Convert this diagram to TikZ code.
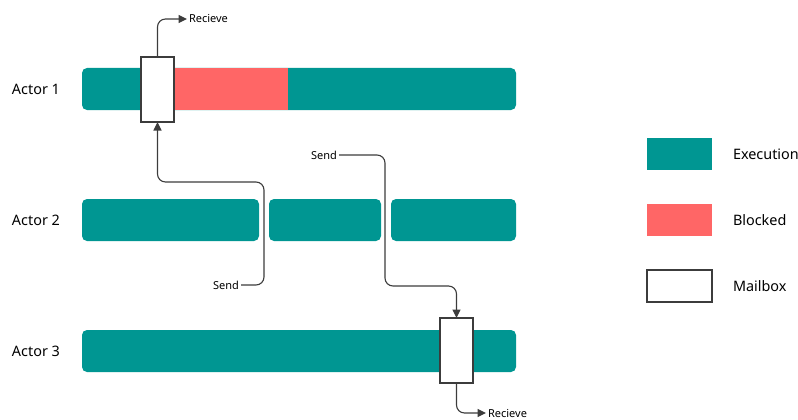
\documentclass[tikz,border=0pt]{standalone}
\usepackage{fontspec}
\setmainfont{Noto Sans}
\usetikzlibrary{arrows.meta,positioning,calc}
\definecolor{exec}{RGB}{0,150,146}
\definecolor{blocked}{RGB}{255,102,102}
\definecolor{wire}{RGB}{60,60,60}

\begin{document}
\begin{tikzpicture}[x=1pt,y=-1pt,
    every node/.style={font=\fontsize{14.4}{16}\selectfont,inner sep=0pt,outer sep=0pt},
    bar/.style={fill=exec,rounded corners=5pt,anchor=north west,minimum height=42pt},
    blk/.style={fill=blocked,anchor=north west,minimum height=42pt},
    mbox/.style={draw=wire,line width=1.1pt,fill=white,minimum width=33pt,minimum height=65pt},
    key/.style={minimum width=65pt,minimum height=32pt},
    tag/.style={font=\fontsize{11}{12}\selectfont,inner sep=2pt},
    link/.style={draw=wire,line width=1.1pt,rounded corners=8pt,-{Triangle[length=8.5pt,width=8pt]}}
  ]
  \useasboundingbox (0,0) rectangle (798,420);

  % actor rows
  \node[anchor=west] (l1) at (12,89) {Actor 1};
  \node[anchor=west] (l2) at (12,220) {Actor 2};
  \node[anchor=west] (l3) at (12,351) {Actor 3};

  \node[bar,minimum width=434pt] (a1) at (82,68) {};
  \node[blk,minimum width=114pt] (b1) at (174,68) {};

  \node[bar,minimum width=177pt] (a2a) at (82,199) {};
  \node[bar,minimum width=112pt] (a2b) at (269,199) {};
  \node[bar,minimum width=125pt] (a2c) at (391,199) {};

  \node[bar,minimum width=434pt] (a3) at (82,330) {};

  % mailboxes
  \node[mbox] (m1) at (157.5,89.5) {};
  \node[mbox] (m3) at (456.5,350.5) {};

  % send / receive labels
  \node[tag,anchor=east] (s1) at (241,285) {Send};
  \node[tag,anchor=east] (s2) at (339,155) {Send};
  \node[tag,anchor=west] (r1) at (187,19) {Recieve};
  \node[tag,anchor=west] (r3) at (486,413) {Recieve};

  \draw[link] (s1.east) -- ++(23,0) |- ($(m1.south)+(0,60)$) -- (m1.south);
  \draw[link] (s2.east) -- ++(46,0) |- ($(m3.north)+(0,-32)$) -- (m3.north);
  \draw[link] (m1.north) |- (r1.west);
  \draw[link] (m3.south) |- (r3.west);

  % legend
  \node[key,fill=exec] (k1) at (679.5,154) {};
  \node[key,fill=blocked] (k2) at (679.5,220) {};
  \node[key,draw=wire,line width=1.1pt,fill=white] (k3) at (679.5,286) {};
  \node[anchor=west,right=21pt of k1] {Execution};
  \node[anchor=west,right=21pt of k2] {Blocked};
  \node[anchor=west,right=21pt of k3] {Mailbox};
\end{tikzpicture}
\end{document}
